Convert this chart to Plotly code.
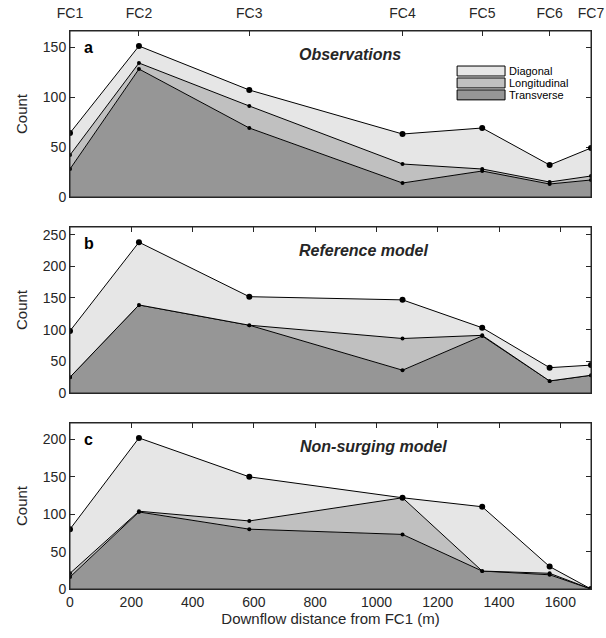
import plotly.graph_objects as go

# distance of each fold-crest section downstream of FC1 (m)
dist = [0, 225, 585, 1085, 1345, 1565, 1700]
fc_labels = ['FC1', 'FC2', 'FC3', 'FC4', 'FC5', 'FC6', 'FC7']
x_ticks = [0, 200, 400, 600, 800, 1000, 1200, 1400, 1600]

# (a) observations
obs_transverse = [28, 128, 69, 14, 26, 13, 17]
obs_longitudinal = [14, 6, 22, 19, 2, 2, 4]
obs_diagonal = [22, 17, 16, 30, 41, 17, 28]

# (b) reference model
ref_transverse = [25, 139, 107, 36, 90, 19, 28]
ref_longitudinal = [0, 0, 0, 50, 1, 0, 0]
ref_diagonal = [73, 99, 45, 61, 12, 21, 16]

# (c) non-surging model
ns_transverse = [16, 103, 80, 73, 24, 19, 0]
ns_longitudinal = [5, 1, 11, 49, 0, 2, 0]
ns_diagonal = [59, 98, 59, 0, 86, 9, 0]

class_names = ['Transverse', 'Longitudinal', 'Diagonal']
fill_colors = ['#969696', '#c0c0c0', '#e6e6e6']
marker_sizes = [4, 4, 6]

panels = [
    ('a', 'Observations', [obs_transverse, obs_longitudinal, obs_diagonal], [0, 50, 100, 150], 166),
    ('b', 'Reference model', [ref_transverse, ref_longitudinal, ref_diagonal], [0, 50, 100, 150, 200, 250], 262),
    ('c', 'Non-surging model', [ns_transverse, ns_longitudinal, ns_diagonal], [0, 50, 100, 150, 200], 222),
]

axcol = '#262626'
font = 'Liberation Sans, Arial, sans-serif'

# panel height and gap in paper fraction (plot area is 558 px tall)
h = 166 / 558
gap = 30 / 558
domains = [[1 - h, 1], [1 - 2 * h - gap, 1 - h - gap], [0, h]]

fig = go.Figure()
annotations = []
shapes = []

for i, (letter, title, series, yt, ymax) in enumerate(panels):
    n = '' if i == 0 else str(i + 1)
    for name, vals, col, ms in zip(class_names, series, fill_colors, marker_sizes):
        fig.add_trace(go.Scatter(
            x=dist, y=vals, name=name, stackgroup='s' + str(i),
            mode='lines+markers', fillcolor=col,
            line=dict(color='black', width=1),
            marker=dict(color='black', size=ms),
            showlegend=False,
            xaxis='x' + n, yaxis='y' + n))

    xa = dict(domain=[0, 1], range=[0, 1700], anchor='y' + n, automargin=False,
              ticks='inside', ticklen=5, tickcolor=axcol, showgrid=False,
              zeroline=False, showline=True, linecolor=axcol, linewidth=1,
              layer='below traces',
              tickfont=dict(family=font, size=14, color=axcol))
    if i == 0:
        xa.update(side='top', tickvals=dist, ticktext=fc_labels, mirror=True,
                  ticklabelstandoff=6)
    else:
        xa.update(tickvals=x_ticks, mirror='ticks', showticklabels=(i == 2))
    if i == 2:
        xa.update(title=dict(text='Downflow distance from FC1 (m)',
                             font=dict(family=font, size=15, color=axcol),
                             standoff=4))
    fig.update_layout({'xaxis' + n: xa})

    ya = dict(domain=domains[i], range=[0, ymax], anchor='x' + n, automargin=False,
              tickvals=yt, ticks='inside', ticklen=5, tickcolor=axcol,
              showgrid=False, zeroline=False, showline=True, linecolor=axcol,
              linewidth=1, mirror='ticks', layer='below traces',
              tickfont=dict(family=font, size=14, color=axcol),
              title=dict(text='Count', font=dict(family=font, size=15, color=axcol),
                         standoff=11))
    fig.update_layout({'yaxis' + n: ya})

    # frame on top of the filled areas
    shapes.append(dict(type='rect', xref='x' + n + ' domain', yref='y' + n + ' domain',
                       x0=0, x1=1, y0=0, y1=1, layer='above',
                       line=dict(color=axcol, width=1)))

    annotations.append(dict(text='<b>' + letter + '</b>', xref='x' + n + ' domain',
                            yref='y' + n + ' domain', x=0.036, y=0.90,
                            xanchor='center', yanchor='middle',
                            showarrow=False, font=dict(family=font, size=16, color='black')))
    annotations.append(dict(text='<b><i>' + title + '</i></b>', xref='x' + n + ' domain',
                            yref='y' + n + ' domain', x=[0.537, 0.564, 0.583][i], y=0.86,
                            xanchor='center', yanchor='middle',
                            showarrow=False, font=dict(family=font, size=16, color='#262626')))

# legend drawn by hand inside panel a (tight MATLAB-style rows)
leg_rows = [('Diagonal', '#e6e6e6', 0.789), ('Longitudinal', '#c0c0c0', 0.717),
            ('Transverse', '#969696', 0.645)]
for name, col, top in leg_rows:
    shapes.append(dict(type='rect', xref='x domain', yref='y domain',
                       x0=0.743, x1=0.835, y0=top - 0.060, y1=top,
                       fillcolor=col, line=dict(color='black', width=1), layer='above'))
    annotations.append(dict(text=name, xref='x domain', yref='y domain',
                            x=0.840, y=top - 0.030, xanchor='left', yanchor='middle',
                            showarrow=False, borderpad=0,
                            font=dict(family=font, size=11, color='black')))

fig.update_layout(
    width=606, height=638,
    margin=dict(l=70, r=15, t=31, b=49),
    plot_bgcolor='white', paper_bgcolor='white',
    showlegend=False,
    shapes=shapes, annotations=annotations,
)

# drop the default page margin so the figure sits at the window corner
fig.write_html("out.html", config={'displayModeBar': False},
               post_script="document.body.style.margin='0';")
